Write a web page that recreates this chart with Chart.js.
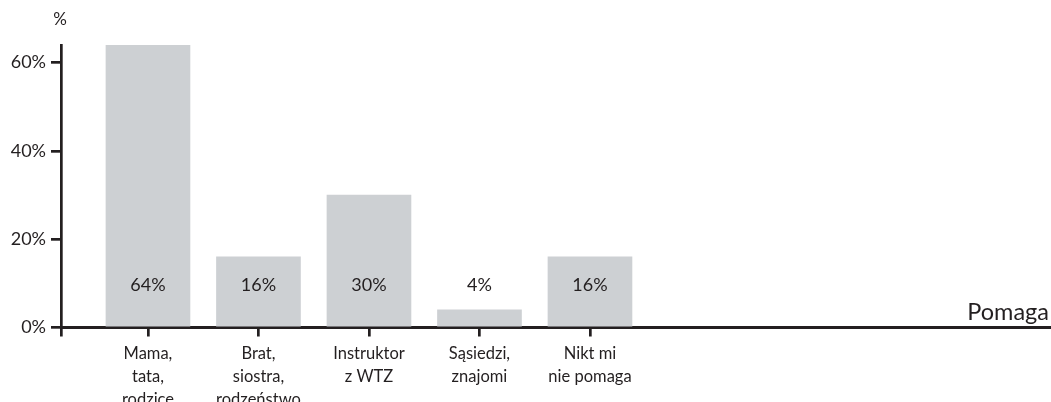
<!DOCTYPE html>
<html>
<head>
<meta charset="utf-8">
<script src="https://cdn.jsdelivr.net/npm/chart.js@4/dist/chart.umd.min.js"></script>
<style>
  html, body { margin: 0; padding: 0; background: #ffffff; }
  #wrap { width: 1051px; height: 402px; position: relative; }
</style>
</head>
<body>
<div id="wrap"><canvas id="c" width="1051" height="402"></canvas></div>
<script>
// Who helps — share of answers
const categories = [
  ['Mama,', 'tata,', 'rodzice'],
  ['Brat,', 'siostra,', 'rodzeństwo'],
  ['Instruktor', 'z WTZ'],
  ['Sąsiedzi,', 'znajomi'],
  ['Nikt mi', 'nie pomaga']
];
const shares = [64, 16, 30, 4, 16];
const yTicks = [0, 20, 40, 60];
const yUnit = '%';
const xTitle = 'Pomaga';

const INK = '#231f20';
const BAR = '#cdd0d3';
const FONT = 'Lato, "DejaVu Sans", sans-serif';

// Value labels sit on one common level inside/above the bars
const valueLabels = {
  id: 'valueLabels',
  afterDatasetsDraw(chart) {
    const { ctx, scales } = chart;
    const meta = chart.getDatasetMeta(0);
    const yLevel = scales.y.getPixelForValue(9.5);
    ctx.save();
    ctx.fillStyle = INK;
    ctx.font = '18px ' + FONT;
    ctx.textAlign = 'center';
    ctx.textBaseline = 'middle';
    meta.data.forEach((bar, i) => {
      ctx.fillText(shares[i] + '%', bar.x, yLevel);
    });
    ctx.restore();
  }
};

// Axis captions: unit above the value axis, name at the end of the category axis
const axisCaptions = {
  id: 'axisCaptions',
  afterDraw(chart) {
    const { ctx, scales, chartArea } = chart;
    ctx.save();
    ctx.fillStyle = INK;
    ctx.font = '17px ' + FONT;
    ctx.textAlign = 'center';
    ctx.textBaseline = 'middle';
    ctx.fillText(yUnit, scales.y.right - 1, chartArea.top - 25);
    ctx.font = '23.5px ' + FONT;
    ctx.textAlign = 'right';
    ctx.textBaseline = 'alphabetic';
    ctx.fillText(xTitle, chartArea.right - 2, scales.x.top - 8);
    ctx.restore();
  }
};

new Chart(document.getElementById('c'), {
  type: 'bar',
  data: {
    datasets: [{
      data: shares.map((v, i) => ({ x: i, y: v })),
      backgroundColor: BAR,
      borderWidth: 0,
      barThickness: 84
    }]
  },
  options: {
    responsive: false,
    animation: false,
    layout: { padding: { top: 45, right: 0, left: 0, bottom: 0 } },
    plugins: { legend: { display: false }, tooltip: { enabled: false } },
    scales: {
      x: {
        type: 'linear',
        offset: false,
        min: -0.787,
        max: 8.172,
        afterBuildTicks(scale) {
          scale.ticks = [{ value: scale.min }].concat(categories.map((_, i) => ({ value: i })));
        },
        afterFit(scale) { scale.height = 74.5; },
        grid: {
          offset: false,
          drawOnChartArea: false,
          drawTicks: true,
          tickLength: 9,
          lineWidth: 2.7,
          color: INK
        },
        border: { display: true, color: INK, width: 3 },
        ticks: {
          autoSkip: false,
          maxRotation: 0,
          padding: 6,
          color: INK,
          font: { family: FONT, size: 16.5, lineHeight: 1.38 },
          callback(value) {
            return Number.isInteger(value) && categories[value] ? categories[value] : '';
          }
        }
      },
      y: {
        min: 0,
        max: 64,
        afterBuildTicks(scale) {
          scale.ticks = yTicks.map(v => ({ value: v }));
        },
        afterFit(scale) { scale.width = 61; },
        grid: {
          drawOnChartArea: false,
          drawTicks: true,
          tickLength: 10,
          lineWidth: 2.7,
          color: INK
        },
        border: { display: true, color: INK, width: 2.7 },
        ticks: {
          padding: 5,
          color: INK,
          font: { family: FONT, size: 18 },
          callback(value) { return value + '%'; }
        }
      }
    }
  },
  plugins: [valueLabels, axisCaptions]
});
</script>
</body>
</html>
